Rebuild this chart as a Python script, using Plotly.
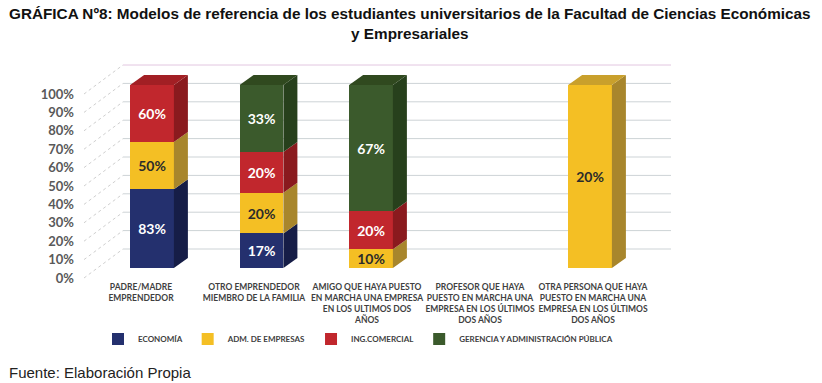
import plotly.graph_objects as go

# ---------------- data ----------------
categories = [
    "PADRE/MADRE<br>EMPRENDEDOR",
    "OTRO EMPRENDEDOR<br>MIEMBRO DE LA FAMILIA",
    "AMIGO QUE HAYA PUESTO<br>EN MARCHA UNA EMPRESA<br>EN LOS ULTIMOS DOS<br>AÑOS",
    "PROFESOR QUE HAYA<br>PUESTO EN MARCHA UNA<br>EMPRESA EN LOS ÚLTIMOS<br>DOS AÑOS",
    "OTRA PERSONA QUE HAYA<br>PUESTO EN MARCHA UNA<br>EMPRESA EN LOS ÚLTIMOS<br>DOS AÑOS",
]
series_names = ["ECONOMÍA", "ADM. DE EMPRESAS", "ING.COMERCIAL", "GERENCIA Y ADMINISTRACIÓN PÚBLICA"]
economia = [83, 17, None, None, None]
adm_empresas = [50, 20, 10, None, 20]
ing_comercial = [60, 20, 20, None, None]
gerencia = [None, 33, 67, None, None]
y_ticks = [0, 10, 20, 30, 40, 50, 60, 70, 80, 90, 100]

series_values = [economia, adm_empresas, ing_comercial, gerencia]
front_colors = ["#24306e", "#f4bf24", "#c1272d", "#3b5a2c"]
side_colors = ["#161d47", "#a8862c", "#8a1a1e", "#27401c"]
top_colors = ["#1c2558", "#c9a02c", "#a21f24", "#30491f"]
text_colors = ["white", "#2b2b2b", "white", "white"]

# ---------------- geometry (pixels) ----------------
W, H = 822, 383
top_px, bot_px = 60, 280
ppu_bar = 1.83            # px per percent (bars)
zero_bar = 268
ppu_lab = 1.84
zero_lab = 278
ppu_grid = 1.84
zero_grid = 249
bar_c0, bar_step = 152, 109.5
lab_c0, lab_step = 141, 113
depth_x_px, depth_y_px = 14, 10
grid_left_px, grid_right_px = 123, 671
bar_width = 0.40

def fx(p):
    return p / W

def fy(p):
    return 1 - p / H

n = len(categories)
idx = list(range(n))
ydom = [fy(bot_px), fy(top_px)]

fig = go.Figure()
for name, vals, fc, tc in zip(series_names, series_values, front_colors, text_colors):
    fig.add_trace(go.Bar(
        x=idx, y=vals, name=name,
        marker=dict(color=fc, line=dict(width=0)),
        width=bar_width,
        text=[f"{v}%" if v else "" for v in vals],
        textposition="inside", insidetextanchor="middle", textangle=0,
        constraintext="none",
        textfont=dict(family="Lato", size=14, color=tc, weight="bold"),
        hoverinfo="skip",
    ))

shapes = []
# back wall gridlines (y3) and slanted connectors
for t in y_ticks:
    shapes.append(dict(type="line", xref="paper", yref="y3",
                       x0=fx(grid_left_px), x1=fx(grid_right_px), y0=t, y1=t,
                       line=dict(color="#e2c6e0" if t == 100 else "#cdd3d6", width=1),
                       layer="below"))
    lab_px = zero_lab - ppu_lab * t
    start_val = (zero_grid - lab_px) / ppu_grid
    shapes.append(dict(type="line", xref="paper", yref="y3",
                       x0=fx(84), x1=fx(grid_left_px), y0=start_val, y1=t,
                       line=dict(color="#cfcfcf", width=1, dash="dot"),
                       layer="below"))

# 3D faces computed from the data
dx = depth_x_px / bar_step
dy = depth_y_px / ppu_bar
for i in idx:
    vals = [s[i] or 0 for s in series_values]
    total = sum(vals)
    if total == 0:
        continue
    cum = 0.0
    last = max(k for k, v in enumerate(vals) if v > 0)
    for k, v in enumerate(vals):
        if v <= 0:
            continue
        pct = v / total * 100
        y0, y1 = cum, cum + pct
        x0, x1 = i - bar_width / 2, i + bar_width / 2
        shapes.append(dict(type="path", xref="x", yref="y",
                           path=f"M {x1},{y0} L {x1+dx},{y0+dy} L {x1+dx},{y1+dy} L {x1},{y1} Z",
                           fillcolor=side_colors[k], line=dict(width=0), layer="above"))
        if k == last:
            shapes.append(dict(type="path", xref="x", yref="y",
                               path=f"M {x0},{y1} L {x0+dx},{y1+dy} L {x1+dx},{y1+dy} L {x1},{y1} Z",
                               fillcolor=top_colors[k], line=dict(width=0), layer="above"))
        cum = y1

fig.update_layout(
    width=W, height=H,
    margin=dict(l=0, r=0, t=0, b=0, pad=0, autoexpand=False),
    paper_bgcolor="white", plot_bgcolor="rgba(0,0,0,0)",
    barmode="stack", barnorm="percent",
    showlegend=True,
    legend=dict(orientation="h", x=fx(358), xanchor="center", y=fy(339), yanchor="middle",
                font=dict(family="Lato", size=8, color="#404040", weight="bold"),
                itemwidth=30, traceorder="normal"),
    xaxis=dict(domain=[fx(bar_c0 - bar_step / 2), fx(bar_c0 + bar_step * (n - 0.5))],
               range=[-0.5, n - 0.5], visible=False, anchor="y"),
    yaxis=dict(domain=ydom, range=[-(bot_px - zero_bar) / ppu_bar, (zero_bar - top_px) / ppu_bar],
               visible=False, anchor="x"),
    xaxis2=dict(domain=[fx(lab_c0 - lab_step / 2), fx(lab_c0 + lab_step * (n - 0.5))],
                range=[-0.5, n - 0.5], anchor="y2", tickmode="array", tickvals=idx,
                ticktext=categories, showgrid=False, zeroline=False, showline=False, ticks="",
                tickfont=dict(family="Lato", size=8.5, color="#3f3f3f", weight="bold")),
    yaxis2=dict(domain=ydom, range=[-(bot_px - zero_lab) / ppu_lab, (zero_lab - top_px) / ppu_lab],
                anchor="free", position=fx(74), overlaying="y", side="left",
                tickmode="array", tickvals=y_ticks, ticktext=[f"{t}%" for t in y_ticks],
                showgrid=False, zeroline=False, showline=False, ticks="",
                tickfont=dict(family="Lato", size=13, color="#595959", weight="bold")),
    yaxis3=dict(domain=ydom, range=[-(bot_px - zero_grid) / ppu_grid, (zero_grid - top_px) / ppu_grid],
                overlaying="y", visible=False, anchor="x"),
    shapes=shapes,
    annotations=[
        dict(text="GRÁFICA Nº8: Modelos de referencia de los estudiantes universitarios de la Facultad de Ciencias Económicas<br>y Empresariales",
             x=fx(410), y=fy(24), xref="paper", yref="paper", xanchor="center", yanchor="middle",
             showarrow=False, font=dict(family="Liberation Sans", size=15.3, color="#111", weight="bold")),
        dict(text="Fuente: Elaboración Propia", x=fx(7), y=fy(372), xref="paper", yref="paper",
             xanchor="left", yanchor="middle", showarrow=False,
             font=dict(family="Liberation Sans", size=15, color="#222")),
    ],
)
# invisible helper trace so that the label axes x2/y2 are drawn
fig.add_trace(go.Scatter(x=[None], y=[None], xaxis="x2", yaxis="y2", showlegend=False, hoverinfo="skip"))
fig.write_html("out.html", config={"displayModeBar": False},
               post_script="document.body.style.margin='0';document.body.style.overflow='hidden';")
